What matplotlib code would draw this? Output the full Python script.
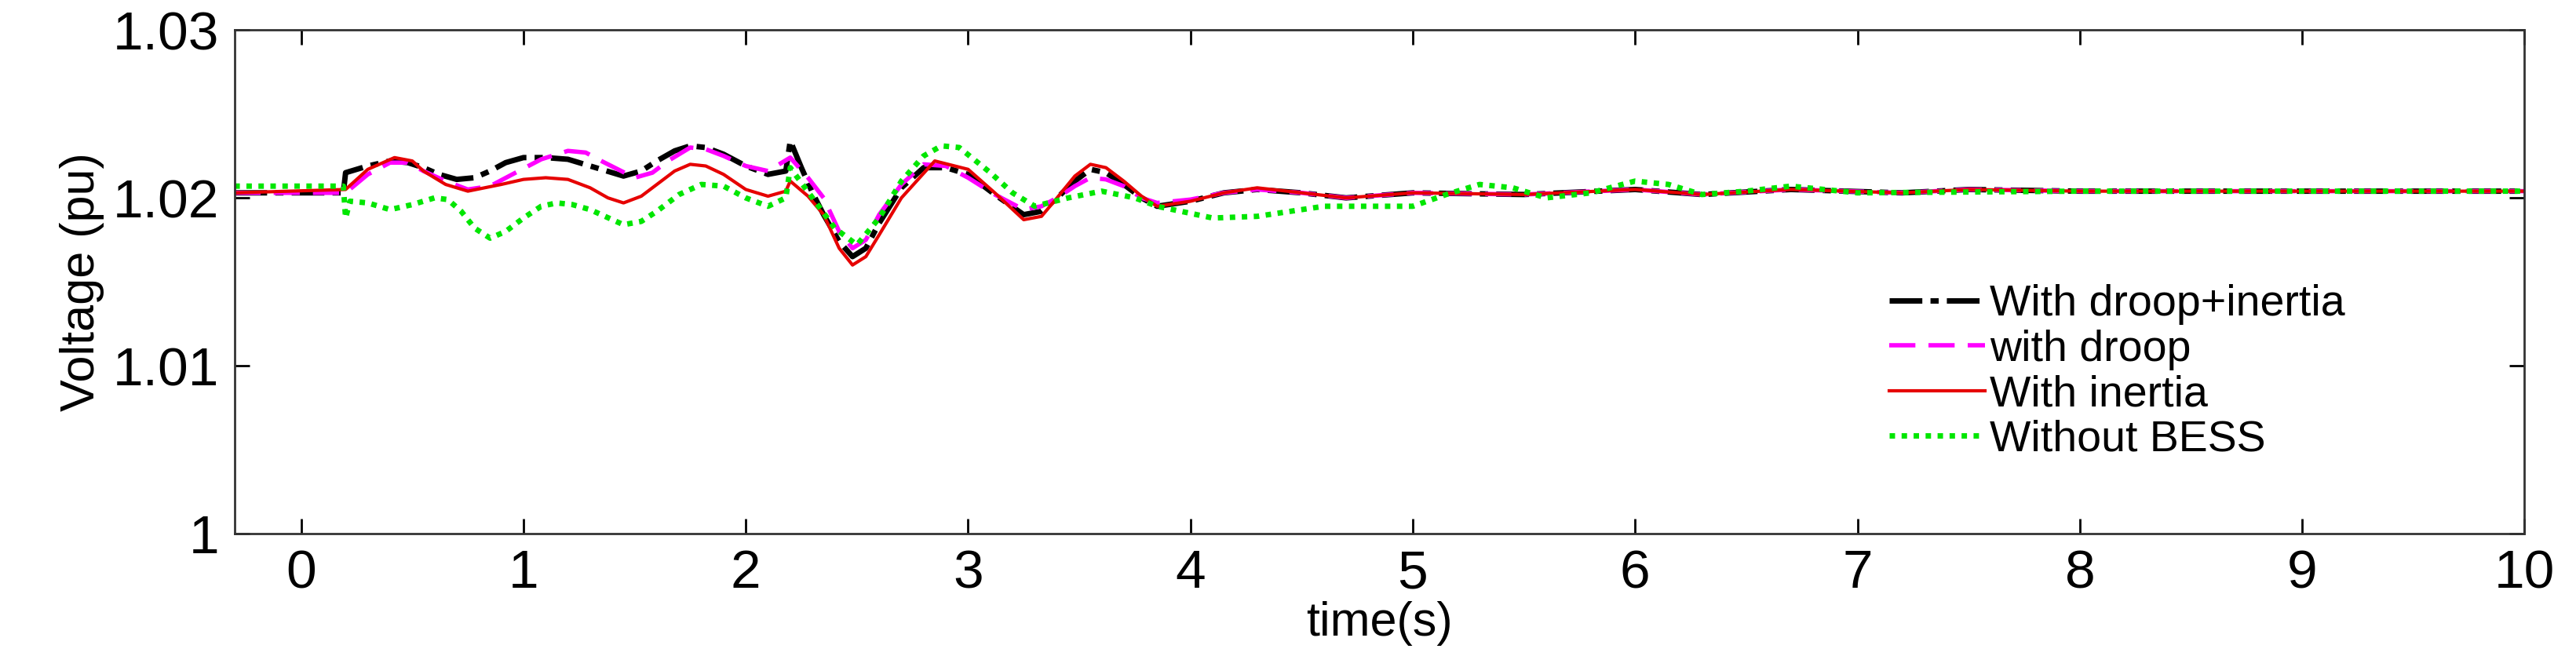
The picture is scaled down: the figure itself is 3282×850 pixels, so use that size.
import matplotlib
matplotlib.use("Agg")
import matplotlib.pyplot as plt

plt.rcParams['font.family'] = ['Liberation Sans', 'DejaVu Sans']

t_black = [-0.3,0.19,0.2,0.3,0.4,0.48,0.55,0.62,0.7,0.78,0.85,0.92,1.0,1.1,1.2,1.3,1.45,1.53,1.6,1.68,1.75,1.82,1.9,2.0,2.1,2.18,2.2,2.25,2.3,2.35,2.42,2.48,2.54,2.6,2.7,2.8,2.9,3.0,3.12,3.25,3.33,3.4,3.48,3.55,3.62,3.7,3.78,3.85,4.0,4.15,4.3,4.5,4.7,5.0,5.5,6.0,6.3,6.7,7.2,7.5,8.0,9.0,10.0]
v_black = [1.0203,1.0203,1.0215,1.0219,1.0222,1.0221,1.0218,1.0214,1.0211,1.0212,1.0216,1.0221,1.0224,1.0224,1.0223,1.0219,1.0213,1.0216,1.0222,1.0228,1.0231,1.0230,1.0226,1.0219,1.0214,1.0216,1.0234,1.0218,1.0203,1.0190,1.0174,1.0165,1.0170,1.0185,1.0206,1.0218,1.0218,1.0214,1.0202,1.0190,1.0192,1.0200,1.0210,1.0217,1.0215,1.0208,1.0200,1.0195,1.0198,1.0203,1.0205,1.0203,1.0200,1.0203,1.0202,1.0205,1.0202,1.0205,1.0203,1.0205,1.0204,1.0204,1.0204]

t_mag = [-0.3,0.2,0.3,0.4,0.48,0.55,0.65,0.75,0.85,0.95,1.08,1.2,1.28,1.35,1.5,1.58,1.65,1.75,1.82,1.9,2.0,2.1,2.2,2.28,2.35,2.42,2.48,2.54,2.6,2.7,2.8,2.9,3.0,3.12,3.25,3.33,3.4,3.48,3.55,3.62,3.7,3.78,3.85,4.0,4.15,4.3,4.5,4.7,5.0,5.5,6.0,6.3,6.7,7.2,7.5,8.0,9.0,10.0]
v_mag = [1.0203,1.0203,1.0214,1.0221,1.0221,1.0216,1.0210,1.0205,1.0207,1.0214,1.0223,1.0228,1.0227,1.0222,1.0212,1.0215,1.0222,1.0230,1.0229,1.0225,1.0219,1.0216,1.0224,1.0212,1.0200,1.0180,1.0170,1.0175,1.0190,1.0208,1.0220,1.0219,1.0212,1.0202,1.0193,1.0195,1.0200,1.0207,1.0212,1.0211,1.0207,1.0200,1.0197,1.0199,1.0203,1.0205,1.0203,1.0200,1.0203,1.0202,1.0205,1.0202,1.0205,1.0203,1.0205,1.0204,1.0204,1.0204]

t_red = [-0.3,0.2,0.3,0.42,0.5,0.55,0.65,0.75,0.9,1.0,1.1,1.2,1.3,1.38,1.45,1.53,1.6,1.68,1.75,1.82,1.9,2.0,2.1,2.18,2.2,2.28,2.35,2.42,2.48,2.54,2.6,2.7,2.85,3.0,3.12,3.25,3.33,3.4,3.48,3.55,3.62,3.7,3.78,3.85,4.0,4.15,4.3,4.5,4.7,5.0,5.5,6.0,6.3,6.7,7.2,7.5,8.0,9.0,10.0]
v_red = [1.0203,1.0205,1.0217,1.0224,1.0222,1.0216,1.0208,1.0204,1.0208,1.0211,1.0212,1.0211,1.0206,1.0200,1.0197,1.0201,1.0208,1.0216,1.0220,1.0219,1.0214,1.0205,1.0201,1.0204,1.0210,1.0201,1.0190,1.0170,1.0160,1.0165,1.0178,1.0200,1.0222,1.0217,1.0203,1.0187,1.0189,1.0200,1.0213,1.0220,1.0218,1.0210,1.0201,1.0195,1.0198,1.0203,1.0206,1.0203,1.0200,1.0203,1.0202,1.0205,1.0202,1.0205,1.0203,1.0205,1.0204,1.0204,1.0204]

t_green = [-0.3,0.19,0.2,0.22,0.3,0.4,0.5,0.6,0.66,0.72,0.78,0.85,0.92,1.0,1.08,1.15,1.22,1.3,1.45,1.53,1.6,1.7,1.8,1.9,2.0,2.1,2.18,2.2,2.3,2.4,2.5,2.6,2.7,2.8,2.88,2.96,3.1,3.2,3.3,3.45,3.6,3.75,3.85,4.1,4.3,4.6,5.0,5.15,5.3,5.45,5.6,5.8,6.0,6.15,6.3,6.5,6.7,7.0,8.0,9.0,10.0]
v_green = [1.0207,1.0207,1.0188,1.0198,1.0197,1.0193,1.0196,1.0200,1.0199,1.0192,1.0182,1.0176,1.0180,1.0188,1.0195,1.0197,1.0196,1.0193,1.0184,1.0186,1.0192,1.0202,1.0208,1.0207,1.0200,1.0195,1.0200,1.0218,1.0200,1.0182,1.0172,1.0188,1.0210,1.0225,1.0231,1.0230,1.0215,1.0203,1.0195,1.0200,1.0204,1.0200,1.0195,1.0188,1.0189,1.0195,1.0195,1.0202,1.0208,1.0206,1.0200,1.0203,1.0210,1.0208,1.0202,1.0204,1.0207,1.0203,1.0204,1.0204,1.0204]

labels = ['With droop+inertia', 'with droop', 'With inertia', 'Without BESS']

fig = plt.figure(figsize=(32.82, 8.5), dpi=100)
ax = fig.add_axes([0.091, 0.20, 0.889, 0.755])
ax.plot(t_black, v_black, color='black', lw=5, ls=(0, (6, 1.5, 1.5, 1.5)), label=labels[0])
ax.plot(t_mag, v_mag, color='#ff00ff', lw=4, ls=(0, (6, 3)), label=labels[1])
ax.plot(t_red, v_red, color='#e60000', lw=3, ls='-', label=labels[2])
ax.plot(t_green, v_green, color='#00e600', lw=5, ls=(0, (1, 1.2)), label=labels[3])
ax.set_xlim(-0.3, 10)
ax.set_ylim(1.0, 1.03)
ax.set_xticks(range(0, 11))
ax.set_yticks([1.0, 1.01, 1.02, 1.03])
ax.set_yticklabels(['1', '1.01', '1.02', '1.03'])
ax.tick_params(direction='in', length=14, width=2, labelsize=50, pad=14, top=True, right=True)
for s in ax.spines.values():
    s.set_linewidth(2)
    s.set_color('#333333')
ax.set_xlabel('time(s)', fontsize=44, labelpad=2)
ax.set_ylabel('Voltage (pu)', fontsize=44, labelpad=8)
ax.legend(loc='upper left', bbox_to_anchor=(0.715, 0.53), frameon=False, fontsize=40,
          handlelength=2.2, handletextpad=0.1, labelspacing=0.1, borderaxespad=0)
fig.savefig('out.png', dpi=100)
